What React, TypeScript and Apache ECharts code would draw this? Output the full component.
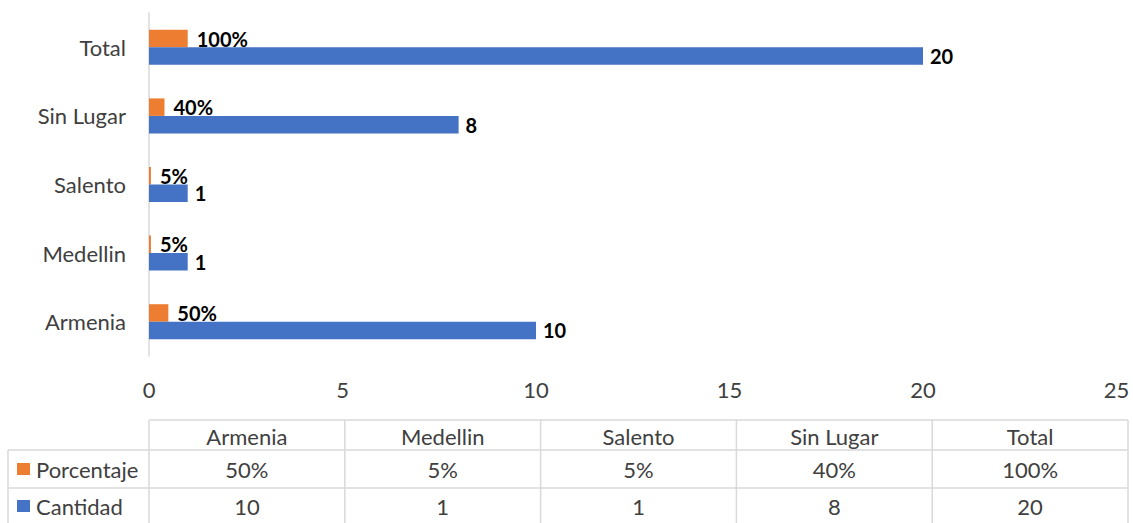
import React, { useEffect, useRef } from "react";
import * as echarts from "echarts";

const categories = ["Armenia", "Medellin", "Salento", "Sin Lugar", "Total"];
const cantidad = [10, 1, 1, 8, 20];
const porcentaje = [0.5, 0.05, 0.05, 0.4, 1.0];
const seriesNames = ["Porcentaje", "Cantidad"];
const xTicks = { min: 0, max: 25, interval: 5 };

const ORANGE = "#ED7D31";
const BLUE = "#4472C4";
const FONT = "Lato, 'Open Sans', sans-serif";
const TXT = "#404040";
const LINE = "#D9D9D9";
const FS = 22;

const pct = (v: number) => Math.round(v * 100) + "%";

export default function App() {
  const ref = useRef<HTMLDivElement>(null);
  useEffect(() => {
    document.body.style.margin = "0";
    const chart = echarts.init(ref.current!, null, { renderer: "svg" });

    // table layout
    const tLeft = 149, tRight = 1128, labLeft = 8;
    const rowY = [420, 450, 488, 526];
    const colW = (tRight - tLeft) / categories.length;
    const g: any[] = [];
    const ln = (x1: number, y1: number, x2: number, y2: number) =>
      g.push({ type: "line", shape: { x1, y1, x2, y2 }, style: { stroke: LINE, lineWidth: 1.5 }, silent: true });
    ln(tLeft, rowY[0], tRight, rowY[0]);
    ln(labLeft, rowY[1], tRight, rowY[1]);
    ln(labLeft, rowY[2], tRight, rowY[2]);
    ln(labLeft, rowY[3], tRight, rowY[3]);
    ln(labLeft, rowY[1], labLeft, rowY[3]);
    for (let i = 0; i <= categories.length; i++) {
      ln(tLeft + i * colW, rowY[0], tLeft + i * colW, rowY[3]);
    }
    const txt = (x: number, y: number, s: string, align = "center") =>
      g.push({ type: "text", x, y, style: { text: s, fill: TXT, font: `${FS}px ${FONT}`, align, verticalAlign: "middle" }, silent: true });
    categories.forEach((c, i) => {
      const cx = tLeft + (i + 0.5) * colW;
      txt(cx, (rowY[0] + rowY[1]) / 2 + 1, c);
      txt(cx, (rowY[1] + rowY[2]) / 2, pct(porcentaje[i]));
      txt(cx, (rowY[2] + rowY[3]) / 2 - 1, String(cantidad[i]));
    });
    const rows = [
      { name: seriesNames[0], color: ORANGE, y: (rowY[1] + rowY[2]) / 2 },
      { name: seriesNames[1], color: BLUE, y: (rowY[2] + rowY[3]) / 2 - 1 },
    ];
    rows.forEach((r) => {
      g.push({ type: "rect", shape: { x: 17, y: r.y - 6, width: 13, height: 12 }, style: { fill: r.color }, silent: true });
      txt(36, r.y, r.name, "left");
    });

    chart.setOption({
      animation: false,
      grid: { left: 149, right: 16.5, top: 13, bottom: 167 },
      xAxis: {
        type: "value",
        min: xTicks.min,
        max: xTicks.max,
        interval: xTicks.interval,
        axisLine: { show: false },
        axisTick: { show: false },
        splitLine: { show: false },
        axisLabel: { color: TXT, fontSize: FS, fontFamily: FONT, margin: 22 },
      },
      yAxis: {
        type: "category",
        data: categories,
        axisLine: { show: true, lineStyle: { color: LINE, width: 1.5 } },
        axisTick: { show: false },
        axisLabel: { color: TXT, fontSize: FS, fontFamily: FONT, margin: 23 },
      },
      series: [
        {
          name: seriesNames[0],
          type: "bar",
          data: porcentaje,
          barGap: "0%",
          barCategoryGap: "49%",
          itemStyle: { color: ORANGE },
          label: {
            show: true, position: "right", distance: 9, color: "#000", fontWeight: "bold", fontSize: 20, fontFamily: FONT,
            formatter: (p: any) => pct(p.value),
          },
        },
        {
          name: seriesNames[1],
          type: "bar",
          data: cantidad,
          barGap: "0%",
          barCategoryGap: "49%",
          itemStyle: { color: BLUE },
          label: { show: true, position: "right", distance: 7, color: "#000", fontWeight: "bold", fontSize: 20, fontFamily: FONT },
        },
      ],
      graphic: g,
    });
    return () => chart.dispose();
  }, []);
  return <div ref={ref} style={{ width: 1133, height: 523 }} />;
}
